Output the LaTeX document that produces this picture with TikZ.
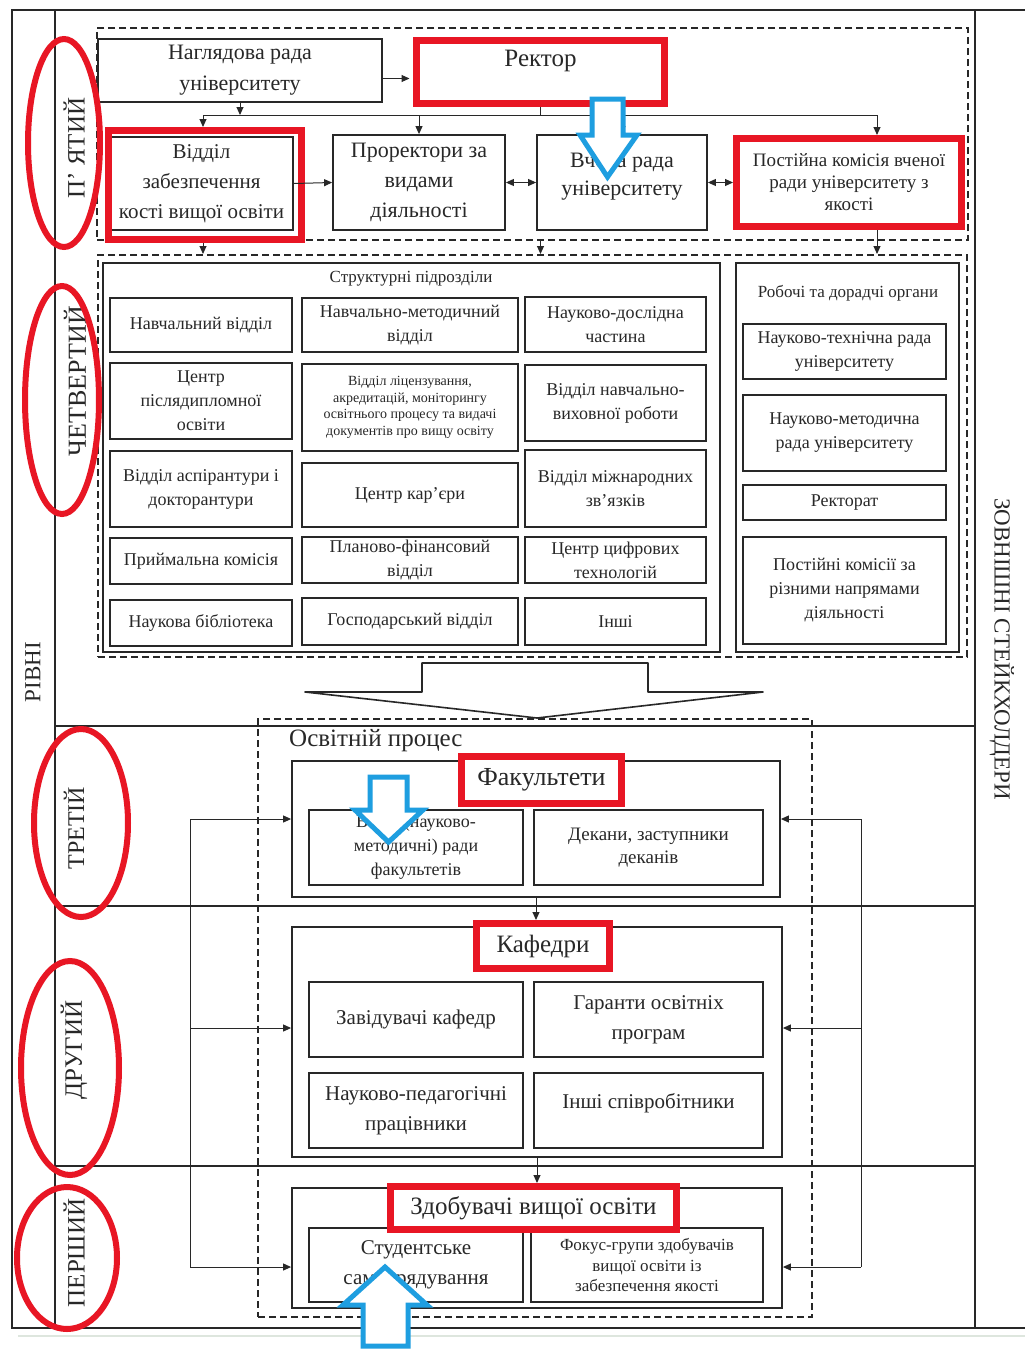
\documentclass[tikz,border=0pt]{standalone}
\usepackage{fontspec}
\setmainfont{Liberation Serif}
\usetikzlibrary{arrows.meta}
\definecolor{redA}{RGB}{232,22,36}
\definecolor{blueA}{RGB}{30,158,224}
\definecolor{ink}{RGB}{40,40,40}
\definecolor{faint}{RGB}{222,230,222}
\newcommand{\mybox}[7]{\node[#1, minimum width={(#5-#3)*1pt}, minimum height={(#6-#4)*1pt}] (#2) at ({(#3+#5)/2},{(#4+#6)/2}) {#7};}
\tikzset{
  fs/.style 2 args={font=\fontsize{#1}{#2}\selectfont},
  box/.style={draw=ink, line width=1.8pt, fill=white, align=center, inner sep=1pt, text=ink},
  redbox/.style={draw=redA, line width=7pt, fill=white, align=center, inner sep=1pt, text=ink},
  redframe/.style={draw=redA, line width=7pt, inner sep=0pt},
  dbox/.style={draw=ink, line width=2pt, dash pattern=on 7pt off 4pt, inner sep=0pt},
  frame/.style={draw=ink, line width=2.2pt},
  conn/.style={draw=ink, line width=1pt},
  arr/.style={conn, -{Triangle[length=8pt,width=7pt]}},
  darr/.style={conn, {Triangle[length=8pt,width=7pt]}-{Triangle[length=8pt,width=7pt]}},
  lvl/.style={text=ink, inner sep=0pt},
  redl/.style={draw=redA, line width=6pt},
  bluear/.style={draw=blueA, line width=5pt, fill=white, line join=miter},
  gbox/.style={box, fs={18}{24}},
  title/.style={text=ink, inner sep=0pt, align=center}
}
\begin{document}
\begin{tikzpicture}[x=1pt,y=-1pt]
\useasboundingbox (0,0) rectangle (1025,1349);
\fill[white] (0,0) rectangle (1025,1349);

% ---- frame and level lines
\draw[frame] (12,10) rectangle (1032,1328);
\draw[frame] (55,10) -- (55,1328);
\draw[frame] (975,10) -- (975,1328);
\draw[frame] (55,726) -- (975,726);
\draw[frame] (55,906) -- (975,906);
\draw[frame] (55,1166) -- (975,1166);
\draw[faint, line width=2pt] (18,1336) -- (1025,1336);

% ---- side labels
\node[lvl, fs={23}{26}, rotate=90] (rivni) at (33,672) {РІВНІ};
\node[lvl, fs={23}{26}, rotate=-90] (zovn) at (1002,649) {ЗОВНІШНІ СТЕЙКХОЛДЕРИ};
\node[lvl, fs={25}{28}, rotate=90] (l5) at (74,148) {П’ ЯТИЙ};
\node[lvl, fs={26}{28}, rotate=90] (l4) at (75,381) {ЧЕТВЕРТИЙ};
\node[lvl, fs={24}{28}, rotate=90] (l3) at (74,828) {ТРЕТІЙ};
\node[lvl, fs={25}{28}, rotate=90] (l2) at (74,1050) {ДРУГИЙ};
\node[lvl, fs={25}{28}, rotate=90] (l1) at (74,1253) {ПЕРШИЙ};

% ---- level 5
\mybox{dbox}{d5}{97}{28}{968}{240}{}
\mybox{box,fs={22}{31}}{nag}{98}{39}{382}{102}{Наглядова рада\\університету}
\mybox{redbox,fs={25}{30},text depth=27pt}{rektor}{416.5}{40.5}{664.5}{103.5}{Ректор}
\mybox{box,fs={21}{30}}{vidil}{110}{137}{293}{230}{Відділ\\забезпечення\\кості вищої освіти}
\mybox{redframe}{vidilred}{108.5}{130.5}{301.5}{239.5}{}
\mybox{box,fs={22}{30}}{prorek}{333}{135}{505}{230}{Проректори за\\видами\\діяльності}
\mybox{box}{vchena}{537}{135}{707}{230}{}
\node[title, fs={22}{28}] (vchenat) at (622,177) {Вчена рада\\університету};
\mybox{redbox,fs={19}{22}}{postiyna}{736.5}{138.5}{961.5}{226.5}{Постійна комісія вченої\\ради університету з\\якості}

\coordinate (bL) at (203,115);
\coordinate (bR) at (877,115);
\draw[conn] (bL) -- (bR);
\draw[arr] ([yshift=-8pt]nag.east) -- ([yshift=-8pt, xshift=-3.5pt]nag.east -| rektor.west);
\draw[arr] (nag.south) -- (nag.south |- bL);
\draw[conn] (rektor.south) -- (rektor.south |- bL);
\draw[arr] (bL) -- (bL |- vidilred.north);
\draw[arr] (prorek.north |- bL) -- (prorek.north);
\draw[arr] (vchena.north |- bL) -- (vchena.north);
\draw[arr] (bR) -- (bR |- postiyna.north);
\draw[arr] (vidil.east) -- (prorek.west);
\draw[darr] (prorek.east) -- (vchena.west);
\draw[darr] (vchena.east) -- (postiyna.west);

% ---- level 4
\mybox{dbox}{d4}{98}{255}{967}{657}{}
\draw[arr] (vidilred.south -| bL) -- (bL |- d4.north);
\draw[arr] (d5.south -| rektor.south) -- (rektor.south |- d4.north);
\draw[arr] (postiyna.south -| bR) -- (bR |- d4.north);

\mybox{box}{struct}{103}{263}{720}{652}{}
\node[title, fs={17}{20}] (structt) at (411,279) {Структурні підрозділи};
\mybox{box}{robochi}{736}{263}{959}{652}{}
\node[title, fs={17}{20}] (robochit) at (848,293) {Робочі та дорадчі органи};

\mybox{gbox}{g11}{110}{298}{292}{352}{Навчальний відділ}
\mybox{gbox}{g12}{302}{298}{518}{352}{Навчально-методичний\\відділ}
\mybox{gbox}{g13}{525}{297}{706}{352}{Науково-дослідна\\частина}
\mybox{gbox}{g21}{110}{363}{292}{439}{Центр\\післядипломної\\освіти}
\mybox{box,fs={14}{16.5}}{g22}{302}{364}{518}{451}{Відділ ліцензування,\\акредитацій, моніторингу\\освітнього процесу та видачі\\документів про вищу освіту}
\mybox{gbox}{g23}{525}{365}{706}{441}{Відділ навчально-\\виховної роботи}
\mybox{gbox}{g31}{110}{451}{292}{527}{Відділ аспірантури і\\докторантури}
\mybox{gbox}{g32}{302}{463}{518}{527}{Центр кар’єри}
\mybox{gbox}{g33}{525}{450}{706}{527}{Відділ міжнародних\\зв’язків}
\mybox{gbox}{g41}{110}{538}{292}{584}{Приймальна комісія}
\mybox{gbox}{g42}{302}{537}{518}{583}{Планово-фінансовий\\відділ}
\mybox{gbox}{g43}{525}{537}{706}{583}{Центр цифрових\\технологій}
\mybox{gbox}{g51}{110}{600}{292}{646}{Наукова бібліотека}
\mybox{gbox}{g52}{302}{598}{518}{645}{Господарський відділ}
\mybox{gbox}{g53}{525}{598}{706}{645}{Інші}

\mybox{gbox}{r1}{743}{324}{946}{379}{Науково-технічна рада\\університету}
\mybox{gbox}{r2}{743}{395}{946}{471}{Науково-методична\\рада університету}
\mybox{gbox}{r3}{743}{485}{946}{520}{Ректорат}
\mybox{gbox}{r4}{743}{537}{946}{644}{Постійні комісії за\\різними напрямами\\діяльності}

% ---- big block arrow between level 4 and level 3
\draw[draw=ink, line width=1.6pt, fill=white, line join=round] (422,663) -- (422,692) -- (305,692) -- (537,718) -- (763,692) -- (648,692) -- (648,663) -- cycle;

% ---- educational process
\mybox{dbox}{d3}{258}{719}{812}{1317}{}
\node[title, fs={25}{28}, anchor=west] (osvit) at (289,741) {Освітній процес};

\mybox{box}{fak}{292}{761}{780}{897}{}
\mybox{box,fs={18}{24}}{vcheni}{309}{810}{523}{885}{Вчені (науково-\\методичні) ради\\факультетів}
\mybox{box,fs={19}{23}}{dekany}{534}{810}{763}{885}{Декани, заступники\\деканів}
\mybox{redbox,fs={26}{30}}{fakred}{461.5}{756.5}{621.5}{803.5}{Факультети}

\mybox{box}{kaf}{292}{927}{782}{1157}{}
\mybox{box,fs={21}{30}}{zav}{309}{982}{523}{1057}{Завідувачі кафедр}
\mybox{box,fs={21}{30}}{gar}{534}{982}{763}{1057}{Гаранти освітніх\\програм}
\mybox{box,fs={21}{30}}{nped}{309}{1073}{523}{1148}{Науково-педагогічні\\працівники}
\mybox{box,fs={21}{30},text depth=20pt}{inshi}{534}{1073}{763}{1148}{Інші співробітники}
\mybox{redbox,fs={25}{30}}{kafred}{476.5}{923.5}{609.5}{968.5}{Кафедри}

\mybox{box}{zdob}{292}{1188}{782}{1308}{}
\mybox{box,fs={21}{30}}{stud}{309}{1228}{523}{1302}{Студентське\\самоврядування}
\mybox{box,fs={17}{20.5}}{fokus}{531}{1228}{763}{1302}{Фокус-групи здобувачів\\вищої освіти із\\забезпечення якості}
\mybox{redbox,fs={25}{30}}{zdobred}{390.5}{1186.5}{676.5}{1229.5}{Здобувачі вищої освіти}

\draw[arr] (fak.south) -- (fak.south |- kafred.north);
\draw[arr] (kaf.south) -- (kaf.south |- zdobred.north);

% ---- stakeholder connectors
\coordinate (sl1) at (190,819);
\coordinate (sl2) at (190,1028);
\coordinate (sl3) at (190,1267);
\coordinate (sr1) at (861,819);
\coordinate (sr2) at (861,1028);
\coordinate (sr3) at (861,1267);
\draw[conn] (sl1) -- (sl3);
\draw[conn] (sr1) -- (sr3);
\draw[arr] (sl1) -- (sl1 -| fak.west);
\draw[arr] (sl2) -- (sl2 -| kaf.west);
\draw[arr] (sl3) -- (sl3 -| zdob.west);
\draw[arr] (sr1) -- (sr1 -| fak.east);
\draw[arr] (sr2) -- (sr2 -| kaf.east);
\draw[arr] (sr3) -- (sr3 -| zdob.east);

% ---- red ellipses
\draw[redl] (64,143) ellipse [x radius=36, y radius=104];
\draw[redl] (62,400) ellipse [x radius=37, y radius=114];
\draw[redl] (81,823) ellipse [x radius=47, y radius=94];
\draw[redl] (70,1068) ellipse [x radius=49, y radius=107];
\draw[redl] (67,1258) ellipse [x radius=50, y radius=71];

% ---- blue hollow arrows
\draw[bluear] (592,99) -- (623,99) -- (623,135) -- (637,135) -- (607.5,177) -- (580,135) -- (592,135) -- cycle;
\draw[bluear] (370,777) -- (407,777) -- (407,810) -- (423,810) -- (388.5,842) -- (355,810) -- (370,810) -- cycle;
\draw[bluear] (385,1267) -- (427,1305) -- (408,1305) -- (408,1346) -- (363,1346) -- (363,1305) -- (343,1305) -- cycle;
\end{tikzpicture}
\end{document}
